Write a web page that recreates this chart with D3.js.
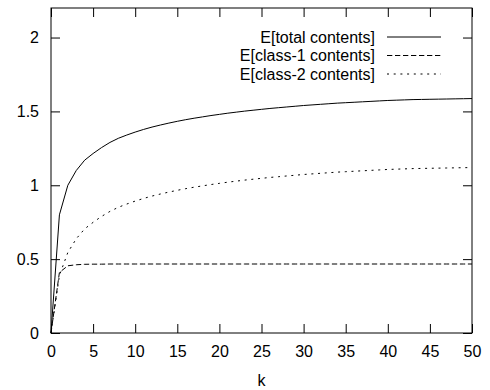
<!DOCTYPE html>
<html>
<head>
<meta charset="utf-8">
<script src="https://cdn.jsdelivr.net/npm/d3@7"></script>
<style>
  body { margin: 0; background: #fff; }
  svg { display: block; font-family: "Liberation Sans", Arial, sans-serif; }
</style>
</head>
<body>
<div id="chart"></div>
<script>
// k = 0..50
var kValues = d3.range(0, 51);

var totalContents = [
  0.000, 0.800, 1.000, 1.100, 1.170, 1.215, 1.255, 1.290, 1.318, 1.340,
  1.360, 1.378, 1.394, 1.408, 1.421, 1.433, 1.444, 1.454, 1.463, 1.472,
  1.480, 1.488, 1.495, 1.502, 1.508, 1.514, 1.520, 1.525, 1.530, 1.535,
  1.540, 1.544, 1.548, 1.552, 1.556, 1.559, 1.562, 1.565, 1.568, 1.571,
  1.574, 1.576, 1.578, 1.580, 1.581, 1.582, 1.583, 1.584, 1.585, 1.586,
  1.587
];

var class1Contents = [
  0.000, 0.410, 0.455, 0.462, 0.465, 0.466, 0.466, 0.467, 0.467, 0.467,
  0.467, 0.467, 0.467, 0.467, 0.467, 0.467, 0.467, 0.467, 0.467, 0.467,
  0.467, 0.467, 0.467, 0.467, 0.467, 0.467, 0.467, 0.467, 0.467, 0.467,
  0.467, 0.467, 0.467, 0.467, 0.467, 0.467, 0.467, 0.467, 0.467, 0.467,
  0.467, 0.467, 0.467, 0.467, 0.467, 0.467, 0.467, 0.467, 0.467, 0.467,
  0.467
];

var class2Contents = [
  0.000, 0.390, 0.545, 0.638, 0.705, 0.749, 0.789, 0.823, 0.851, 0.873,
  0.893, 0.911, 0.927, 0.941, 0.954, 0.966, 0.977, 0.987, 0.996, 1.005,
  1.013, 1.021, 1.028, 1.035, 1.041, 1.047, 1.053, 1.058, 1.063, 1.068,
  1.073, 1.077, 1.081, 1.085, 1.089, 1.092, 1.095, 1.098, 1.101, 1.104,
  1.107, 1.109, 1.111, 1.113, 1.114, 1.115, 1.116, 1.117, 1.118, 1.119,
  1.120
];

var xTicks = [0, 5, 10, 15, 20, 25, 30, 35, 40, 45, 50];
var yTicks = [0, 0.5, 1, 1.5, 2];

var series = [
  { name: "E[total contents]", values: totalContents, dash: null },
  { name: "E[class-1 contents]", values: class1Contents, dash: "5.3,2.7" },
  { name: "E[class-2 contents]", values: class2Contents, dash: "2,4.7" }
];

var margin = {top: 8, right: 18, bottom: 57, left: 51},
    width = 490 - margin.left - margin.right,
    height = 390 - margin.top - margin.bottom;

var svg = d3.select("#chart").append("svg")
    .attr("width", 490)
    .attr("height", 390)
  .append("g")
    .attr("transform", "translate(" + margin.left + "," + margin.top + ")");

var x = d3.scaleLinear().domain([0, 50]).range([0, width]);
var y = d3.scaleLinear().domain([0, 2.2]).range([height, 0]);

var tickLen = 9;

// bottom axis with labels, ticks pointing inward
svg.append("g")
    .attr("transform", "translate(0," + height + ")")
    .call(d3.axisBottom(x).tickValues(xTicks).tickSizeInner(-tickLen).tickSizeOuter(0).tickPadding(13))
    .call(g => g.select(".domain").remove())
    .selectAll("text")
      .attr("font-size", "16px")
      .attr("fill", "#000");

// top mirror ticks
svg.append("g")
    .call(d3.axisTop(x).tickValues(xTicks).tickSizeInner(-tickLen).tickSizeOuter(0).tickFormat(""))
    .call(g => g.select(".domain").remove());

// left axis
svg.append("g")
    .call(d3.axisLeft(y).tickValues(yTicks).tickSizeInner(-tickLen).tickSizeOuter(0).tickPadding(12)
      .tickFormat(d3.format("")))
    .call(g => g.select(".domain").remove())
    .selectAll("text")
      .attr("font-size", "16px")
      .attr("fill", "#000");

// right mirror ticks
svg.append("g")
    .attr("transform", "translate(" + width + ",0)")
    .call(d3.axisRight(y).tickValues(yTicks).tickSizeInner(-tickLen).tickSizeOuter(0).tickFormat(""))
    .call(g => g.select(".domain").remove());

svg.selectAll(".tick line").attr("stroke", "#000");

// frame
svg.append("rect")
    .attr("x", 0).attr("y", 0)
    .attr("width", width).attr("height", height)
    .attr("fill", "none")
    .attr("stroke", "#000")
    .attr("stroke-width", 1);

// x label
svg.append("text")
    .attr("x", width / 2)
    .attr("y", height + 53)
    .attr("text-anchor", "middle")
    .attr("font-size", "16px")
    .text("k");

var line = d3.line()
    .x((d, i) => x(kValues[i]))
    .y(d => y(d));

svg.selectAll(".series")
    .data(series)
  .enter().append("path")
    .attr("class", "series")
    .attr("d", d => line(d.values))
    .attr("fill", "none")
    .attr("stroke", "#000")
    .attr("stroke-width", 1)
    .attr("stroke-dasharray", d => d.dash);

// legend
var legend = svg.append("g");
series.forEach(function(s, i) {
  var ly = 29 + i * 18.5;
  legend.append("text")
    .attr("x", 324)
    .attr("y", ly)
    .attr("dy", "0.35em")
    .attr("text-anchor", "end")
    .attr("font-size", "16px")
    .text(s.name);
  legend.append("line")
    .attr("x1", 336).attr("x2", 390)
    .attr("y1", ly).attr("y2", ly)
    .attr("stroke", "#000")
    .attr("stroke-width", 1)
    .attr("stroke-dasharray", s.dash);
});
</script>
</body>
</html>
